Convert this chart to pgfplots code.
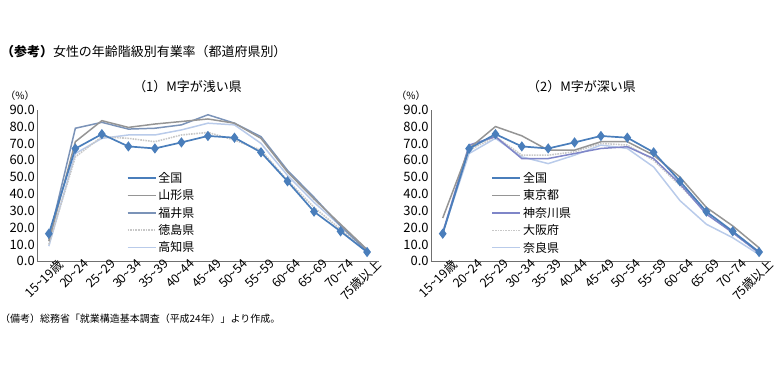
\documentclass[border=0pt]{standalone}
\usepackage{fontspec}
\setmainfont{Noto Sans CJK JP}
\usepackage{pgfplots}
\usepackage{pgfplotstable}
\pgfplotsset{compat=1.18}
\definecolor{cZenkoku}{HTML}{4A7EBB}
\definecolor{cGray}{HTML}{959595}
\definecolor{cFukui}{HTML}{7B93B8}
\definecolor{cKana}{HTML}{7F86C8}
\definecolor{cDot}{HTML}{C8C8C8}
\definecolor{cLblue}{HTML}{B9CBEA}
\definecolor{cAxis}{HTML}{707070}

\pgfplotstableread{
x zenkoku yamagata fukui tokushima kochi
0 16.4 12 13 10 9
1 66.9 71 79 62 64
2 75.5 83.5 82.5 74 73
3 68.2 79.5 78.5 73 75
4 67.0 81.5 79 71 75
5 70.6 83 81 75 78
6 74.4 84.5 87 76.5 82
7 73.4 82 82 72 81
8 64.7 73 74 66 70
9 47.5 53 54 48 51
10 29.5 37 38 32 35
11 17.8 22 21 19 21
12 5.5 7 6 6 7
}\tableA

\pgfplotstableread{
x zenkoku tokyo kanagawa osaka nara
0 16.4 25.7 17 17 17
1 66.9 67 69 66 64
2 75.5 80 74 74 73
3 68.2 74.5 61 63 62
4 67.0 66 61 63 58
5 70.6 66 64 65 63
6 74.4 71 67 70 69
7 73.4 71 68 69 67
8 64.7 63 61 60 56
9 47.5 50 46 45 36
10 29.5 32 28 29 22
11 17.8 21 17 17 14
12 5.5 8 5 5 4
}\tableB

\pgfplotsset{
  myaxis/.style={
    scale only axis,
    width=343pt, height=152pt,
    xmin=-0.45, xmax=12.45,
    ymin=0, ymax=90,
    axis lines=left,
    axis line style={cAxis, -},
    ytick={0,10,...,90},
    xtick={0,...,12},
    xticklabels={15\textasciitilde19歳,20\textasciitilde24,25\textasciitilde29,30\textasciitilde34,35\textasciitilde39,40\textasciitilde44,45\textasciitilde49,50\textasciitilde54,55\textasciitilde59,60\textasciitilde64,65\textasciitilde69,70\textasciitilde74,75歳以上},
    x tick label style={rotate=45, anchor=north east, font=\fontsize{12.5}{13}\selectfont, inner sep=0pt, xshift=8pt, yshift=-3pt},
    y tick label style={font=\fontsize{13}{14}\selectfont, inner sep=1pt, xshift=-1pt},
    /pgf/number format/assume math mode=true,
    yticklabel={\pgfmathprintnumber[fixed,fixed zerofill,precision=1]{\tick}},
    major tick length=0pt,
    legend cell align=left,
    legend style={draw=none, fill=none, font=\fontsize{12}{13}\selectfont, row sep=1.8pt, inner sep=0pt, nodes={inner sep=2pt}},
    legend image code/.code={\draw[#1] (0pt,0pt) -- (28pt,0pt);},
    reverse legend,
    clip=false,
  },
  zen/.style={cZenkoku, line width=1.7pt, mark=diamond*, mark size=3.8pt, mark options={solid, fill=cZenkoku}},
}

\begin{document}
\begin{tikzpicture}[x=1pt,y=1pt]
\path (0,0) rectangle (775,385);
\node[anchor=west, inner sep=0pt, font=\fontsize{13}{14}\selectfont] at (1,333) {\textbf{（参考）}女性の年齢階級別有業率（都道府県別）};
\node[anchor=center, inner sep=0pt, font=\fontsize{13}{14}\selectfont] at (188,298) {（1）M字が浅い県};
\node[anchor=center, inner sep=0pt, font=\fontsize{13}{14}\selectfont] at (583,298) {（2）M字が深い県};
\node[anchor=center, inner sep=0pt, font=\fontsize{10}{11}\selectfont] at (20,289) {（\%）};
\node[anchor=center, inner sep=0pt, font=\fontsize{10}{11}\selectfont] at (412,289) {（\%）};
\node[anchor=west, inner sep=0pt, font=\fontsize{10}{11}\selectfont] at (0,65) {（備考）総務省「就業構造基本調査（平成24年）」より作成。};

\begin{axis}[myaxis, at={(37pt,123pt)}, anchor=south west,
  legend style={at={(0.262,0.6)}, anchor=north west}]
\addplot[cLblue, line width=1.5pt] table[x=x,y=kochi] {\tableA};
\addlegendentry{高知県}
\addplot[cDot, line width=1.6pt, densely dotted] table[x=x,y=tokushima] {\tableA};
\addlegendentry{徳島県}
\addplot[cFukui, line width=1.5pt] table[x=x,y=fukui] {\tableA};
\addlegendentry{福井県}
\addplot[cGray, line width=1.5pt] table[x=x,y=yamagata] {\tableA};
\addlegendentry{山形県}
\addplot[zen] table[x=x,y=zenkoku] {\tableA};
\addlegendentry{全国}
\end{axis}

\begin{axis}[myaxis, width=341pt, at={(432pt,123pt)}, anchor=south west,
  legend style={at={(0.178,0.6)}, anchor=north west}]
\addplot[cLblue, line width=1.5pt] table[x=x,y=nara] {\tableB};
\addlegendentry{奈良県}
\addplot[cDot, line width=1.6pt, densely dotted] table[x=x,y=osaka] {\tableB};
\addlegendentry{大阪府}
\addplot[cKana, line width=1.5pt] table[x=x,y=kanagawa] {\tableB};
\addlegendentry{神奈川県}
\addplot[cGray, line width=1.5pt] table[x=x,y=tokyo] {\tableB};
\addlegendentry{東京都}
\addplot[zen] table[x=x,y=zenkoku] {\tableB};
\addlegendentry{全国}
\end{axis}
\end{tikzpicture}
\end{document}
